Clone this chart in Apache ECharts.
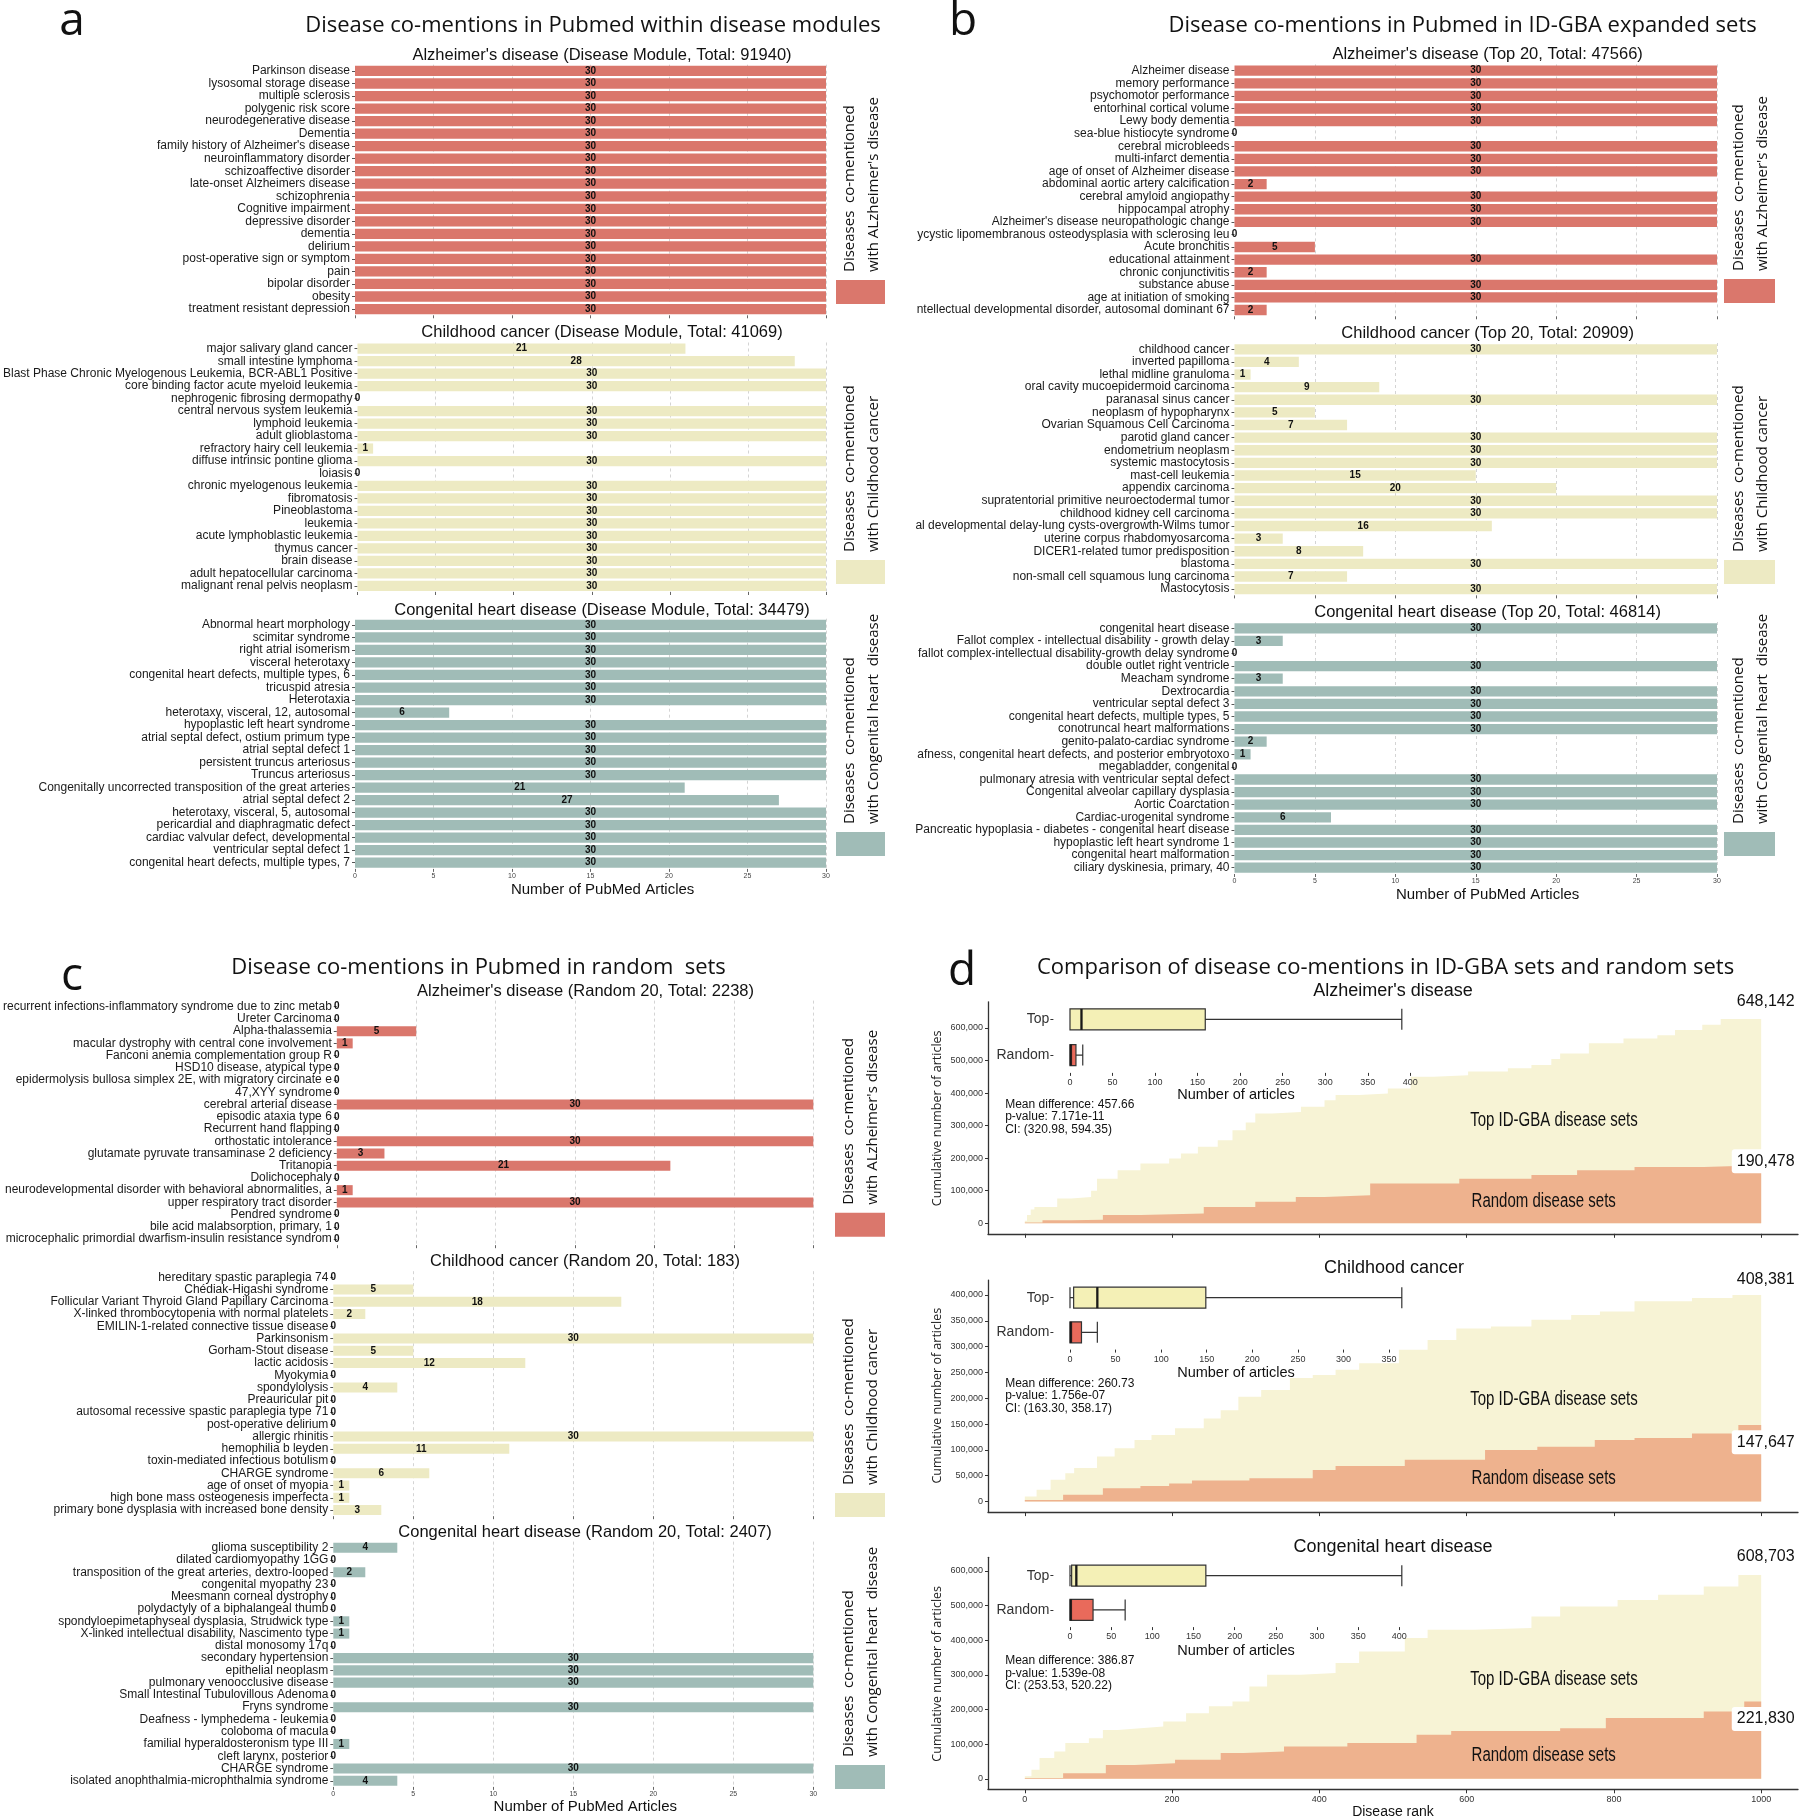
<!DOCTYPE html>
<html><head><meta charset="utf-8">
<script src="https://cdn.jsdelivr.net/npm/echarts@6/dist/echarts.min.js"></script>
<style>html,body{margin:0;padding:0;background:#fff}#c{width:1800px;height:1818px}</style>
</head><body><div id="c"></div>
<script>
// ===================== DATA =====================
// Panel a: disease modules
const aAdCats = ["Parkinson disease","lysosomal storage disease","multiple sclerosis","polygenic risk score","neurodegenerative disease","Dementia","family history of Alzheimer's disease","neuroinflammatory disorder","schizoaffective disorder","late-onset Alzheimers disease","schizophrenia","Cognitive impairment","depressive disorder","dementia","delirium","post-operative sign or symptom","pain","bipolar disorder","obesity","treatment resistant depression"];
const aAdVals = [30,30,30,30,30,30,30,30,30,30,30,30,30,30,30,30,30,30,30,30];
const aCcCats = ["major salivary gland cancer","small intestine lymphoma","Blast Phase Chronic Myelogenous Leukemia, BCR-ABL1 Positive","core binding factor acute myeloid leukemia","nephrogenic fibrosing dermopathy","central nervous system leukemia","lymphoid leukemia","adult glioblastoma","refractory hairy cell leukemia","diffuse intrinsic pontine glioma","loiasis","chronic myelogenous leukemia","fibromatosis","Pineoblastoma","leukemia","acute lymphoblastic leukemia","thymus cancer","brain disease","adult hepatocellular carcinoma","malignant renal pelvis neoplasm"];
const aCcVals = [21,28,30,30,0,30,30,30,1,30,0,30,30,30,30,30,30,30,30,30];
const aChdCats = ["Abnormal heart morphology","scimitar syndrome","right atrial isomerism","visceral heterotaxy","congenital heart defects, multiple types, 6","tricuspid atresia","Heterotaxia","heterotaxy, visceral, 12, autosomal","hypoplastic left heart syndrome","atrial septal defect, ostium primum type","atrial septal defect 1","persistent truncus arteriosus","Truncus arteriosus","Congenitally uncorrected transposition of the great arteries","atrial septal defect 2","heterotaxy, visceral, 5, autosomal","pericardial and diaphragmatic defect","cardiac valvular defect, developmental","ventricular septal defect 1","congenital heart defects, multiple types, 7"];
const aChdVals = [30,30,30,30,30,30,30,6,30,30,30,30,30,21,27,30,30,30,30,30];
// Panel b: ID-GBA expanded sets
const bAdCats = ["Alzheimer disease","memory performance","psychomotor performance","entorhinal cortical volume","Lewy body dementia","sea-blue histiocyte syndrome","cerebral microbleeds","multi-infarct dementia","age of onset of Alzheimer disease","abdominal aortic artery calcification","cerebral amyloid angiopathy","hippocampal atrophy","Alzheimer's disease neuropathologic change","ycystic lipomembranous osteodysplasia with sclerosing leu","Acute bronchitis","educational attainment","chronic conjunctivitis","substance abuse","age at initiation of smoking","ntellectual developmental disorder, autosomal dominant 67"];
const bAdVals = [30,30,30,30,30,0,30,30,30,2,30,30,30,0,5,30,2,30,30,2];
const bCcCats = ["childhood cancer","inverted papilloma","lethal midline granuloma","oral cavity mucoepidermoid carcinoma","paranasal sinus cancer","neoplasm of hypopharynx","Ovarian Squamous Cell Carcinoma","parotid gland cancer","endometrium neoplasm","systemic mastocytosis","mast-cell leukemia","appendix carcinoma","supratentorial primitive neuroectodermal tumor","childhood kidney cell carcinoma","al developmental delay-lung cysts-overgrowth-Wilms tumor","uterine corpus rhabdomyosarcoma","DICER1-related tumor predisposition","blastoma","non-small cell squamous lung carcinoma","Mastocytosis"];
const bCcVals = [30,4,1,9,30,5,7,30,30,30,15,20,30,30,16,3,8,30,7,30];
const bChdCats = ["congenital heart disease","Fallot complex - intellectual disability - growth delay","fallot complex-intellectual disability-growth delay syndrome","double outlet right ventricle","Meacham syndrome","Dextrocardia","ventricular septal defect 3","congenital heart defects, multiple types, 5","conotruncal heart malformations","genito-palato-cardiac syndrome","afness, congenital heart defects, and posterior embryotoxo","megabladder, congenital","pulmonary atresia with ventricular septal defect","Congenital alveolar capillary dysplasia","Aortic Coarctation","Cardiac-urogenital syndrome","Pancreatic hypoplasia - diabetes - congenital heart disease","hypoplastic left heart syndrome 1","congenital heart malformation","ciliary dyskinesia, primary, 40"];
const bChdVals = [30,3,0,30,3,30,30,30,30,2,1,0,30,30,30,6,30,30,30,30];
// Panel c: random sets
const cAdCats = ["recurrent infections-inflammatory syndrome due to zinc metab","Ureter Carcinoma","Alpha-thalassemia","macular dystrophy with central cone involvement","Fanconi anemia complementation group R","HSD10 disease, atypical type","epidermolysis bullosa simplex 2E, with migratory circinate e","47,XYY syndrome","cerebral arterial disease","episodic ataxia type 6","Recurrent hand flapping","orthostatic intolerance","glutamate pyruvate transaminase 2 deficiency","Tritanopia","Dolichocephaly","neurodevelopmental disorder with behavioral abnormalities, a","upper respiratory tract disorder","Pendred syndrome","bile acid malabsorption, primary, 1","microcephalic primordial dwarfism-insulin resistance syndrom"];
const cAdVals = [0,0,5,1,0,0,0,0,30,0,0,30,3,21,0,1,30,0,0,0];
const cCcCats = ["hereditary spastic paraplegia 74","Chédiak-Higashi syndrome","Follicular Variant Thyroid Gland Papillary Carcinoma","X-linked thrombocytopenia with normal platelets","EMILIN-1-related connective tissue disease","Parkinsonism","Gorham-Stout disease","lactic acidosis","Myokymia","spondylolysis","Preauricular pit","autosomal recessive spastic paraplegia type 71","post-operative delirium","allergic rhinitis","hemophilia b leyden","toxin-mediated infectious botulism","CHARGE syndrome","age of onset of myopia","high bone mass osteogenesis imperfecta","primary bone dysplasia with increased bone density"];
const cCcVals = [0,5,18,2,0,30,5,12,0,4,0,0,0,30,11,0,6,1,1,3];
const cChdCats = ["glioma susceptibility 2","dilated cardiomyopathy 1GG","transposition of the great arteries, dextro-looped","congenital myopathy 23","Meesmann corneal dystrophy","polydactyly of a biphalangeal thumb","spondyloepimetaphyseal dysplasia, Strudwick type","X-linked intellectual disability, Nascimento type","distal monosomy 17q","secondary hypertension","epithelial neoplasm","pulmonary venoocclusive disease","Small Intestinal Tubulovillous Adenoma","Fryns syndrome","Deafness - lymphedema - leukemia","coloboma of macula","familial hyperaldosteronism type III","cleft larynx, posterior","CHARGE syndrome","isolated anophthalmia-microphthalmia syndrome"];
const cChdVals = [4,0,2,0,0,0,1,1,0,30,30,30,0,30,0,0,1,0,30,4];

const barSubtitles = [
  "Alzheimer's disease (Disease Module, Total: 91940)","Childhood cancer (Disease Module, Total: 41069)","Congenital heart disease (Disease Module, Total: 34479)",
  "Alzheimer's disease (Top 20, Total: 47566)","Childhood cancer (Top 20, Total: 20909)","Congenital heart disease (Top 20, Total: 46814)",
  "Alzheimer's disease (Random 20, Total: 2238)","Childhood cancer (Random 20, Total: 183)","Congenital heart disease (Random 20, Total: 2407)"];
const legendTexts = ["Diseases  co-mentioned\nwith ALzheimer's disease","Diseases  co-mentioned\nwith Childhood cancer","Diseases  co-mentioned\nwith Congenital heart  disease"];
const panelTitles = ["Disease co-mentions in Pubmed within disease modules","Disease co-mentions in Pubmed in ID-GBA expanded sets","Disease co-mentions in Pubmed in random  sets","Comparison of disease co-mentions in ID-GBA sets and random sets"];
const panelLetters = ["a","b","c","d"];

// Panel d: cumulative articles by disease rank  [rank, cumulative articles]
const adTopCum = [[0,8000],[3,25000],[8,42000],[13,50000],[44,76000],[63,81000],[90,100000],[98,137000],[126,163000],[157,184000],[196,199000],[212,214000],[235,235000],[262,255000],[282,286000],[300,310000],[313,337000],[336,342000],[375,358000],[407,378000],[422,394000],[454,399000],[493,414000],[524,450000],[555,455000],[602,466000],[656,476000],[688,486000],[715,505000],[727,522000],[766,553000],[813,568000],[859,578000],[883,594000],[920,610000],[945,628000],[1000,628000]];
const adRandCum = [[0,2000],[24,9000],[63,11000],[106,25000],[157,30000],[243,50000],[313,66000],[368,81000],[407,86000],[469,122000],[590,137000],[688,148000],[750,163000],[828,173000],[922,178000],[1000,178000]];
const ccTopCum = [[0,10000],[16,23000],[35,42000],[55,55000],[67,65000],[98,87000],[122,103000],[149,119000],[172,129000],[204,142000],[243,161000],[266,177000],[290,203000],[321,216000],[360,239000],[391,245000],[422,255000],[454,268000],[508,294000],[547,313000],[586,335000],[633,339000],[688,352000],[742,361000],[781,368000],[828,388000],[906,394000],[961,400000],[1000,400000]];
const ccRandCum = [[0,3000],[52,13000],[106,26000],[157,30000],[196,35000],[227,41000],[305,45000],[391,61000],[422,69000],[516,81000],[625,100000],[696,106000],[774,119000],[828,123000],[906,132000],[969,148000],[1000,148000]];
const chdTopCum = [[0,7000],[9,26000],[20,60000],[40,79000],[55,103000],[87,117000],[106,141000],[126,146000],[157,151000],[188,165000],[219,189000],[250,209000],[282,223000],[305,266000],[329,300000],[375,305000],[422,334000],[454,367000],[516,406000],[547,430000],[610,435000],[688,468000],[727,497000],[805,516000],[860,531000],[922,555000],[969,588000],[1000,588000]];
const chdRandCum = [[0,2000],[52,16000],[110,40000],[149,45000],[204,55000],[266,74000],[297,79000],[352,93000],[438,103000],[532,127000],[579,138000],[727,146000],[789,175000],[922,194000],[977,223000],[1000,223000]];
const dTopTotals = ["648,142","408,381","608,703"];
const dRandTotals = ["190,478","147,647","221,830"];
const dSubtitles = ["Alzheimer's disease","Childhood cancer","Congenital heart disease"];
const boxCats = ["Top","Random"];
// boxplot [min, Q1, median, Q3, max] of number of articles
const adBox = [[0,0,13.5,159,390],[0,0,1,7,15]];
const ccBox = [[0,4,30,149,364],[0,0,1,12.6,30]];
const chdBox = [[0,2,7.7,165,403],[0,0,1,28,67]];
const dStats = ["Mean difference: 457.66\np-value: 7.171e-11\nCI: (320.98, 594.35)",
                "Mean difference: 260.73\np-value: 1.756e-07\nCI: (163.30, 358.17)",
                "Mean difference: 386.87\np-value: 1.539e-08\nCI: (253.53, 520.22)"];
const rankTicks = [0,200,400,600,800,1000];
const cumTicks = [[0,100000,200000,300000,400000,500000,600000],[0,50000,100000,150000,200000,250000,300000,350000,400000],[0,100000,200000,300000,400000,500000,600000]];
const boxTicks = [[0,50,100,150,200,250,300,350,400],[0,50,100,150,200,250,300,350],[0,50,100,150,200,250,300,350,400]];

// ===================== STYLE / LAYOUT =====================
const F = "'Liberation Sans', Arial, sans-serif";
const HF = "'Open Sans', 'Noto Sans', sans-serif";
const COL = ['#DA776C','#EDEAC3','#A0BCB7'];
const grids = [], xAxes = [], yAxes = [], series = [], gfx = [];
const num = s => Number(String(s).replace(/,/g, ''));

function txt(x, y, text, font, o) {
  o = o || {};
  const al = o.align || 'center', va = o.va || 'middle';
  const st = {text, font, fill: o.fill || '#111', textAlign: al, align: al, textVerticalAlign: va, verticalAlign: va};
  if (o.lh) st.lineHeight = o.lh;
  const el = {type:'text', x, y, rotation: o.rot || 0, silent:true, z:10, style: st};
  if (o.sx) el.scaleX = o.sx;
  gfx.push(el);
}

const barLayout = [
  {left:355, top:64.7, width:471, height:250.6},
  {left:355, top:342.5, width:471, height:249.5},
  {left:355, top:618.7, width:471, height:250.2},
  {left:1234.5, top:64.4, width:482.5, height:251.9},
  {left:1234.5, top:343, width:482.5, height:252.4},
  {left:1234.5, top:622, width:482.5, height:252},
  {left:333.3, top:1000.6, width:480, height:244.6},
  {left:333.3, top:1271.2, width:480, height:245},
  {left:333.3, top:1541.6, width:480, height:245.3}];
const barCats = [aAdCats,aCcCats,aChdCats,bAdCats,bCcCats,bChdCats,cAdCats,cCcCats,cChdCats];
const barVals = [aAdVals,aCcVals,aChdVals,bAdVals,bCcVals,bChdVals,cAdVals,cCcVals,cChdVals];

barLayout.forEach((g, i) => {
  const gi = grids.length;
  grids.push(Object.assign({containLabel:false}, g));
  const bottom = (i % 3) === 2;
  xAxes.push({gridIndex:gi, type:'value', min:0, max:30, interval:5,
    axisLine:{show:false, onZero:false},
    axisTick:{show:true, length:3, lineStyle:{color:'#666'}},
    axisLabel:{show:bottom, fontSize:7, color:'#444', margin:4, fontFamily:F},
    splitLine:{show:true, showMinLine:false, lineStyle:{type:[3,3], color:'#d4d4d4', width:1}}});
  yAxes.push({gridIndex:gi, type:'category', inverse:true, data:barCats[i],
    axisLine:{show:false, onZero:false},
    axisTick:{show:true, length:3, alignWithLabel:true, lineStyle:{color:'#555'}},
    axisLabel:{interval:0, fontSize:12, color:'#1a1a1a', margin:5, fontFamily:F}});
  series.push({type:'bar', xAxisIndex:gi, yAxisIndex:gi, data:barVals[i], barCategoryGap:'18%',
    itemStyle:{color:COL[i % 3]}, silent:true,
    label:{show:true, position:'inside', fontSize:10, fontWeight:'bold', color:'#111', fontFamily:F}});
});

// bar subtitles
const subPos = [[602,55],[602,332.7],[602,610],[1487.6,54.3],[1487.6,333],[1487.6,612.7],[585.5,991],[585,1261.7],[585,1532.7]];
subPos.forEach((p, i) => txt(p[0], p[1], barSubtitles[i], "16.5px " + F));
// x axis names
[[602.6,890],[1487.6,895],[585.3,1806.7]].forEach(p => txt(p[0], p[1], 'Number of PubMed Articles', '15px ' + F));
// legend boxes + rotated texts
const legBoxes = [
  [836,280,49],[836,560,49],[836,832,49],
  [1724,279,51],[1724,560,51],[1724,832,51],
  [835,1212.7,50],[835,1493,50],[835,1765,50]];
legBoxes.forEach((b, i) => {
  gfx.push({type:'rect', shape:{x:b[0], y:b[1], width:b[2], height:24}, style:{fill:COL[i % 3]}, silent:true});
  txt(b[0] + b[2] / 2 + 1, b[1] - 8, legendTexts[i % 3], "15px " + HF, {rot:Math.PI/2, align:'left', va:'middle', lh:24, fill:'#111'});
});
// panel titles & letters
[[593,26],[1462.6,26],[478.6,968],[1385.6,968]].forEach((p, i) => txt(p[0], p[1], panelTitles[i], "22px " + HF));
[[72,22],[963,22],[72,977],[962,972]].forEach((p, i) => txt(p[0], p[1], panelLetters[i], "46px " + HF));

// ---------- Panel d ----------
const dTop = [adTopCum, ccTopCum, chdTopCum];
const dRand = [adRandCum, ccRandCum, chdRandCum];
const dBoxes = [adBox, ccBox, chdBox];
const dGridTop = [1001.8, 1280.1, 1557.3];
const boxGridTop = [1001.5, 1280.4, 1558.5];
const boxGridH = [71.4, 69.2, 68.6];
const boxRange = [[-19.5,409.5],[-18.2,382.2],[-20.15,423.15]];
const randLabelPos = ['inside','bottom','bottom'];
const fmt = v => Math.round(v).toLocaleString('en-US');

for (let k = 0; k < 3; k++) {
  const gi = grids.length;
  const tot = num(dTopTotals[k]);
  grids.push({left:988, top:dGridTop[k], width:810, height:232});
  xAxes.push({gridIndex:gi, type:'value', min:-50, max:1050,
    axisLine:{show:true, onZero:false, lineStyle:{color:'#333', width:1.3}},
    axisTick:{show:true, length:4, customValues:rankTicks, lineStyle:{color:'#333'}},
    axisLabel:{show:k === 2, customValues:rankTicks, formatter:v => String(Math.round(v)), fontSize:9, color:'#333', margin:6, fontFamily:F},
    splitLine:{show:false}});
  yAxes.push({gridIndex:gi, type:'value', min:-0.05 * tot, max:1.05 * tot,
    axisLine:{show:true, onZero:false, lineStyle:{color:'#333', width:1.3}},
    axisTick:{show:true, length:3, customValues:cumTicks[k], lineStyle:{color:'#333'}},
    axisLabel:{customValues:cumTicks[k], formatter:fmt, fontSize:9, color:'#333', margin:5, fontFamily:F},
    splitLine:{show:false}});
  const tl = dTop[k][dTop[k].length - 1], rl = dRand[k][dRand[k].length - 1];
  series.push({type:'line', xAxisIndex:gi, yAxisIndex:gi, data:dTop[k], step:'end', showSymbol:false, symbol:'none',
    lineStyle:{width:0}, areaStyle:{color:'#F7F3D5', opacity:1}, silent:true, z:2,
    markPoint:{symbol:'circle', symbolSize:0, silent:true,
      data:[{coord:[tl[0], num(dTopTotals[k])]}],
      label:{show:true, formatter:dTopTotals[k], position:'top', distance:0, offset:[4.5,0], fontSize:16, color:'#111', fontFamily:F,
        backgroundColor:'#fff', padding:[3,5,3,5], borderRadius:3}}});
  series.push({type:'line', xAxisIndex:gi, yAxisIndex:gi, data:dRand[k], step:'end', showSymbol:false, symbol:'none',
    lineStyle:{width:0}, areaStyle:{color:'#EEB28E', opacity:1}, silent:true, z:3,
    markPoint:{symbol:'circle', symbolSize:0, silent:true,
      data:[{coord:[rl[0], num(dRandTotals[k])]}],
      label:{show:true, formatter:dRandTotals[k], position:randLabelPos[k], distance:k === 0 ? 0 : 5, offset:[4.5,0], fontSize:16, color:'#111', fontFamily:F,
        backgroundColor:'#fff', padding:[4,5,4,5], borderRadius:3}}});

  // inset boxplot
  const bi = grids.length;
  grids.push({left:1053.4, top:boxGridTop[k], width:365, height:boxGridH[k]});
  xAxes.push({gridIndex:bi, type:'value', min:boxRange[k][0], max:boxRange[k][1], z:20,
    axisLine:{show:false, onZero:false},
    axisTick:{show:true, length:3, customValues:boxTicks[k], lineStyle:{color:'#333'}},
    axisLabel:{customValues:boxTicks[k], fontSize:9, color:'#333', margin:5, fontFamily:F},
    splitLine:{show:false}});
  yAxes.push({gridIndex:bi, type:'category', inverse:true, data:boxCats, z:20,
    axisLine:{show:false, onZero:false},
    axisTick:{show:true, length:3, alignWithLabel:true, lineStyle:{color:'#333'}},
    axisLabel:{fontSize:14, color:'#333', margin:4, fontFamily:F}});
  series.push({type:'boxplot', xAxisIndex:bi, yAxisIndex:bi, boxWidth:[21,21], silent:true, z:5,
    data:[{value:dBoxes[k][0], itemStyle:{color:'#F4F0B6'}}, {value:dBoxes[k][1], itemStyle:{color:'#E96A5B'}}],
    itemStyle:{borderColor:'#333', borderWidth:1.2}});
  series.push({type:'scatter', xAxisIndex:bi, yAxisIndex:bi, silent:true, z:6, symbol:'rect', symbolSize:[2.5,21],
    itemStyle:{color:'#111'}, data:[[dBoxes[k][0][2], 0], [dBoxes[k][1][2], 1]]});
}
// panel d texts
[[1393,991],[1394,1268.3],[1393,1546.7]].forEach((p, i) => txt(p[0], p[1], dSubtitles[i], '18px ' + F));
[1118.3,1395.7,1673.8].forEach(y => txt(937.4, y, 'Cumulative number of articles', '12.5px ' + HF, {rot:Math.PI/2, fill:'#222'}));
[1095.3,1373.3,1651].forEach(y => txt(1236, y, 'Number of articles', '14.5px ' + F));
[1098,1377,1654.5].forEach((y, i) => txt(1005.2, y, dStats[i], '12px ' + F, {align:'left', va:'top', lh:12.5}));
[1120,1399.3,1679.3].forEach(y => txt(1554, y, 'Top ID-GBA disease sets', '20px ' + F, {sx:0.75}));
[1201.7,1478.3,1755].forEach(y => txt(1543.7, y, 'Random disease sets', '20px ' + F, {sx:0.75}));
txt(1393, 1812, 'Disease rank', '14px ' + F);

const chart = echarts.init(document.getElementById('c'), null, {renderer:'canvas'});
chart.setOption({animation:false, backgroundColor:'#fff', grid:grids, xAxis:xAxes, yAxis:yAxes, series:series, graphic:{elements:gfx}});
</script></body></html>
